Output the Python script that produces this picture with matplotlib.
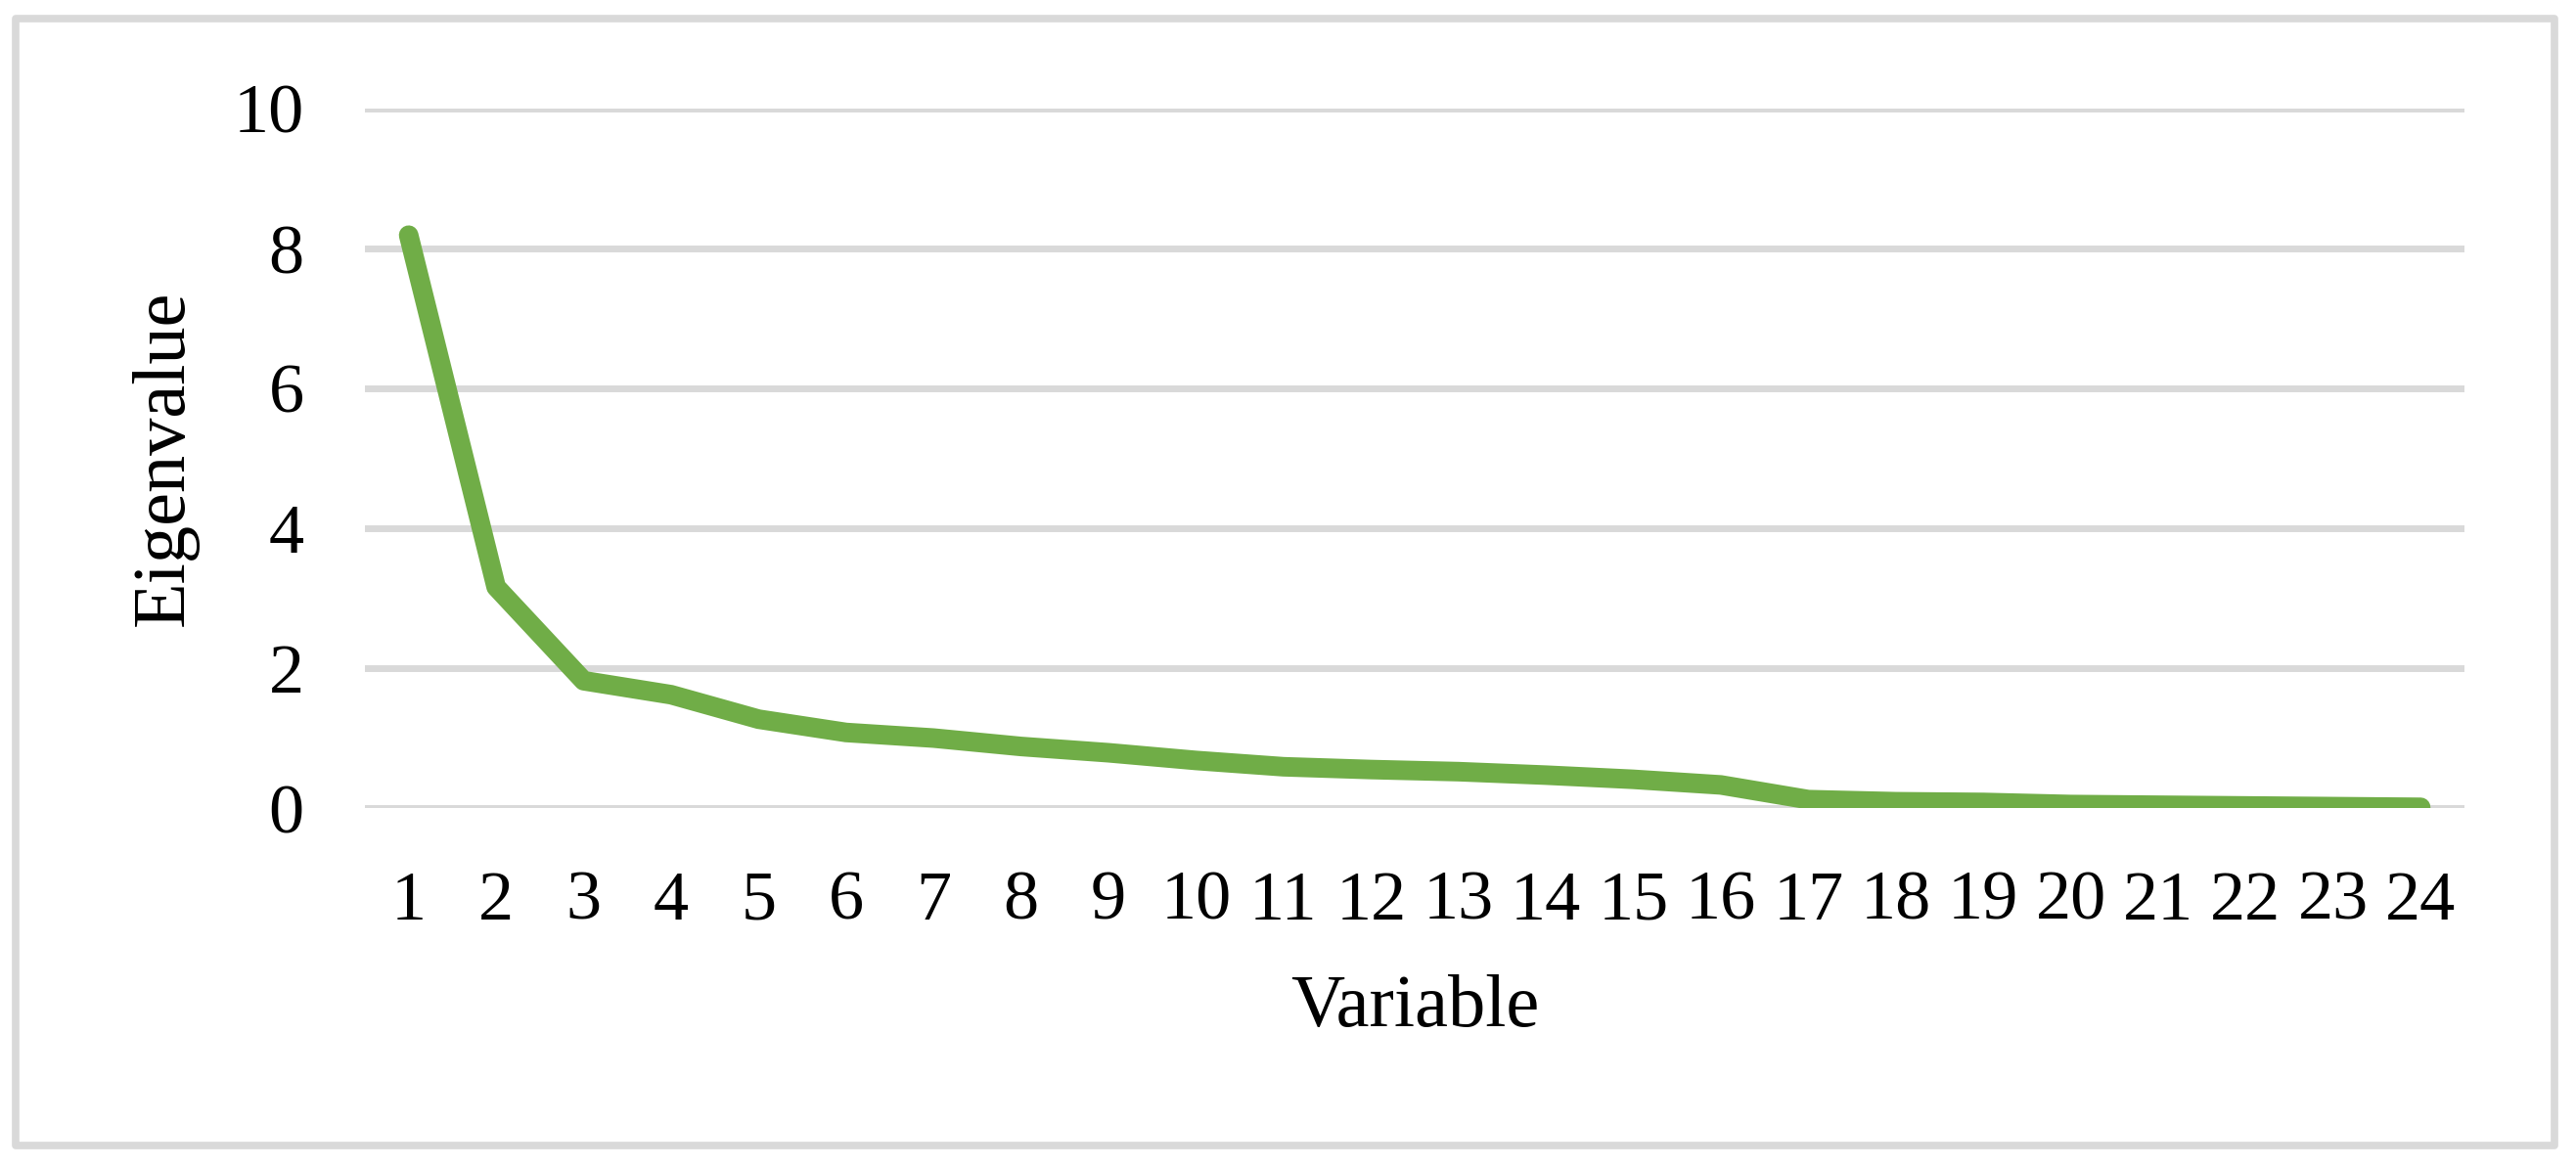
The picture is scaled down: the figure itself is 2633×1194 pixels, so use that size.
import matplotlib
matplotlib.use("Agg")
import matplotlib.pyplot as plt
from matplotlib.patches import Rectangle

# Scree plot values
variables = list(range(1, 25))
eigenvalues = [8.19, 3.16, 1.82, 1.62, 1.27, 1.08, 1.00, 0.88, 0.79, 0.68,
               0.59, 0.55, 0.52, 0.47, 0.41, 0.33, 0.12, 0.09, 0.08, 0.05,
               0.04, 0.03, 0.02, 0.01]
y_ticks = [0, 2, 4, 6, 8, 10]

plt.rcParams['font.family'] = ['Liberation Serif', 'DejaVu Serif']

W, H = 2633, 1194
fig = plt.figure(figsize=(W / 100, H / 100), dpi=100)
ax = fig.add_axes([373 / W, 1 - 826 / H, (2519 - 373) / W, (826 - 111) / H])

for y in y_ticks:
    ax.axhline(y, color='#D9D9D9', lw=5.0, zorder=1)

ax.plot(variables, eigenvalues, color='#70AD47', lw=14.4,
        solid_capstyle='round', solid_joinstyle='round', zorder=3)

ax.set_xlim(0.5, 24.5)
ax.set_ylim(0, 10)
ax.set_xticks(variables)
ax.set_xticklabels([str(v) for v in variables])
ax.set_yticks(y_ticks)
ax.tick_params(axis='both', length=0, labelsize=52, colors='black')
ax.tick_params(axis='y', pad=45)
ax.tick_params(axis='x', pad=46)
for s in ax.spines.values():
    s.set_visible(False)

ax.set_xlabel('Variable', fontsize=55)
ax.set_ylabel('Eigenvalue', fontsize=55)
ax.xaxis.set_label_coords(0.5, -(1030 - 826) / (826 - 111), transform=ax.transAxes)
ax.xaxis.label.set_va('center')
ax.yaxis.set_label_coords(-(373 - 168) / (2519 - 373), 0.5, transform=ax.transAxes)
ax.yaxis.label.set_va('center')

# outer chart border
fig.patches.append(Rectangle((16 / W, 1 - 1171 / H), (2611 - 16) / W, (1171 - 19) / H,
                             transform=fig.transFigure, fill=False,
                             edgecolor='#D9D9D9', lw=5.5, joinstyle='round'))

fig.savefig('out.png', dpi=100, facecolor='white')
